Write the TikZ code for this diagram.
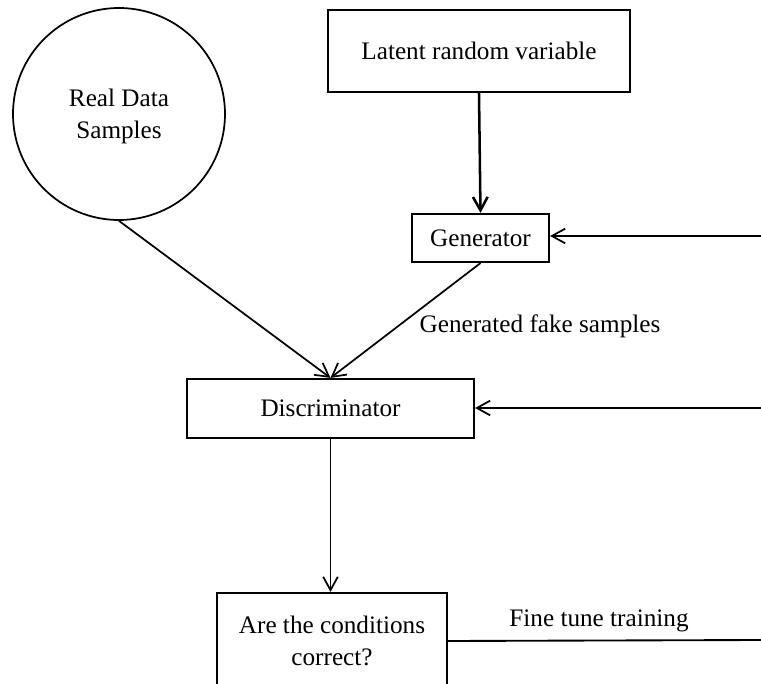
\documentclass[tikz,border=0pt]{standalone}
\usepackage{fontspec}
\setmainfont{Liberation Serif}
\usetikzlibrary{arrows.meta}
\begin{document}
\begin{tikzpicture}[x=0.75pt,y=-0.75pt,
  every node/.style={font=\fontsize{18.9}{24}\selectfont, align=center},
  box/.style={draw, line width=1.6pt, inner sep=0pt},
  conn/.style={line width=1.3pt, -{Straight Barb[length=10pt,width=11pt,line width=1.3pt]}},
  thickconn/.style={line width=1.9pt, -{Straight Barb[length=10pt,width=11pt,line width=1.9pt]}},
  plain/.style={line width=1.4pt}]
\useasboundingbox (0,0) rectangle (761,684);
\node[draw, circle, line width=1.3pt, minimum size=159pt, inner sep=0pt, text depth=-4pt] (real) at (119,114) {Real Data\\Samples};
\node[box, minimum width=226.5pt, minimum height=61.5pt] (latent) at (479,51) {Latent random variable};
\node[box, minimum width=102.75pt, minimum height=36pt] (gen) at (480.5,238) {Generator};
\node[box, minimum width=215.25pt, minimum height=44.25pt] (disc) at (330.5,408.5) {Discriminator};
\node[box, minimum width=172.5pt, minimum height=72pt] (are) at (332,641) {Are the conditions\\correct?};
\node (fake) at (540,326) {Generated fake samples};
\node (fine) at (599,621) {Fine tune training};
\coordinate (gr) at (761,236);
\coordinate (dr) at (761,408);
\coordinate (fr) at (761,640);
\draw[thickconn] (latent.south) -- (gen.north);
\draw[conn] (gr) -- (gr -| gen.east);
\draw[conn] (real.south) -- (disc.north);
\draw[conn] (gen.south) -- (disc.north);
\draw[conn] (dr) -- (dr -| disc.east);
\draw[conn] (disc.south) -- (disc.south |- are.north);
\draw[plain] (are.east) -- (fr);
\end{tikzpicture}
\end{document}
